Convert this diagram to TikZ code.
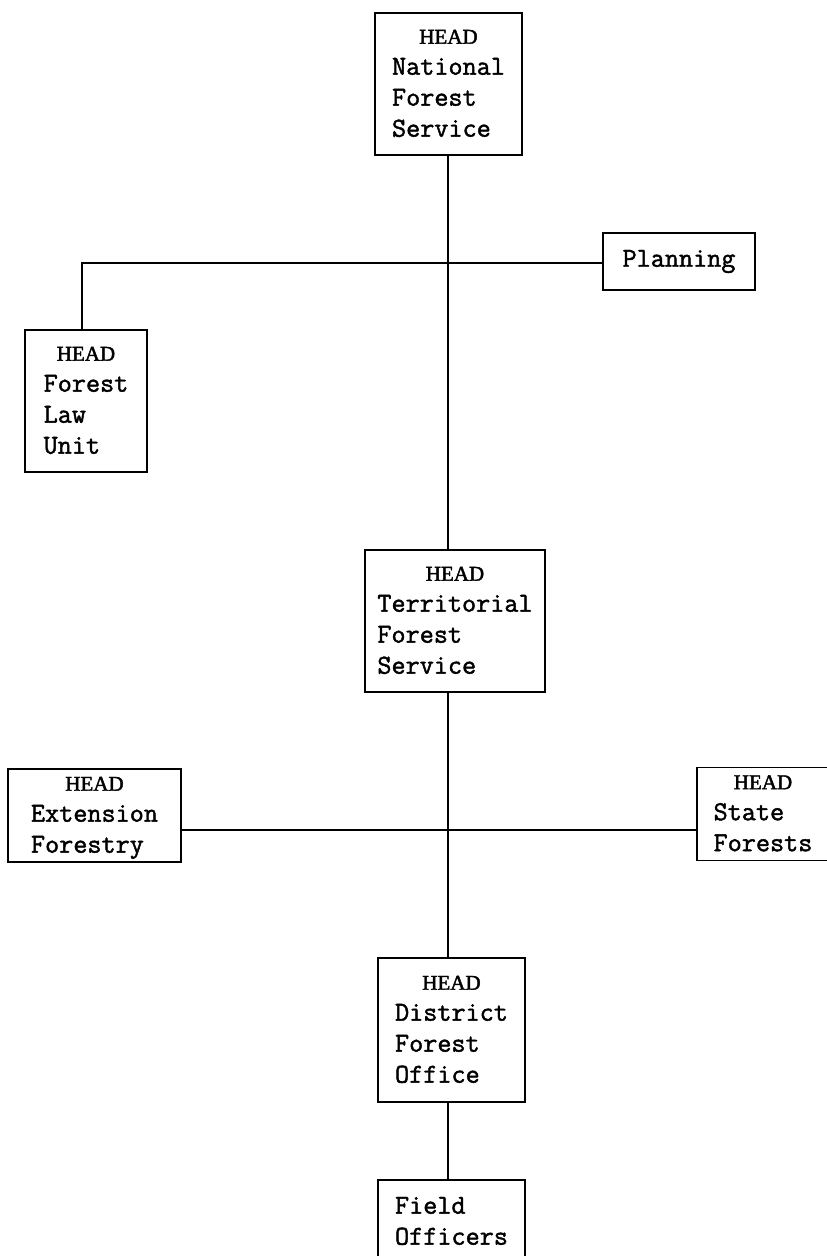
\documentclass[tikz,border=0pt]{standalone}
\usepackage{fontspec}
\newfontfamily\twfont{Latin Modern Mono}[FakeBold=1.6]
\newfontfamily\headfont{Liberation Serif}[FakeBold=2]
% box contents: a centred HEAD line over left-aligned typewriter lines
\newcommand\headed[1]{\begin{tabular}{@{}l@{}}\multicolumn{1}{@{}c@{}}{\headfont\fontsize{21}{31}\selectfont HEAD}\\#1\end{tabular}}
\newcommand\plainlines[1]{\begin{tabular}{@{}l@{}}#1\end{tabular}}
\begin{document}
\begin{tikzpicture}[x=1pt,y=-1pt,
  unit/.style={draw, line width=1.5pt, inner sep=0pt, anchor=center,
    font=\twfont\fontsize{27.4}{31}\selectfont},
  link/.style={line width=1.5pt}]
\useasboundingbox (0,0) rectangle (827,1256);
\clip (0,0) rectangle (827,1256);
\fill[white] (0,0) rectangle (827,1256);

\node[unit, minimum width=147pt, minimum height=142pt] (nat) at (448.5,84)
  {\headed{National\\Forest\\Service}};
\node[unit, minimum width=152pt, minimum height=57pt] (plan) at (679,261.5)
  {Planning};
\node[unit, minimum width=122pt, minimum height=142pt] (law) at (86,401)
  {\headed{Forest\\Law\\Unit}};
\node[unit, minimum width=180pt, minimum height=142pt] (ter) at (455,621)
  {\headed{Territorial\\Forest\\Service}};
\node[unit, minimum width=173pt, minimum height=91pt] (ext) at (94.5,815.5)
  {\headed{Extension\\Forestry}};
\node[unit, minimum width=132pt, minimum height=92pt] (state) at (763,814)
  {\headed{State\\Forests}};
\node[unit, minimum width=147pt, minimum height=144pt] (dist) at (451.5,1030)
  {\headed{District\\Forest\\Office}};
\node[unit, minimum width=147pt, minimum height=86pt] (field) at (451.5,1223)
  {\plainlines{Field\\Officers}};

% vertical spine and the two cross lines
\coordinate (spine) at (448,0);
\coordinate (upper) at (82,263);
\coordinate (lower) at (448,830);

\draw[link] (nat.south -| spine) -- (ter.north -| spine);
\draw[link] (law.north -| upper) -- (upper) -- (upper -| plan.west);
\draw[link] (ter.south -| spine) -- (dist.north -| spine);
\draw[link] (ext.east |- lower) -- (state.west |- lower);
\draw[link] (dist.south -| spine) -- (field.north -| spine);
\end{tikzpicture}
\end{document}
